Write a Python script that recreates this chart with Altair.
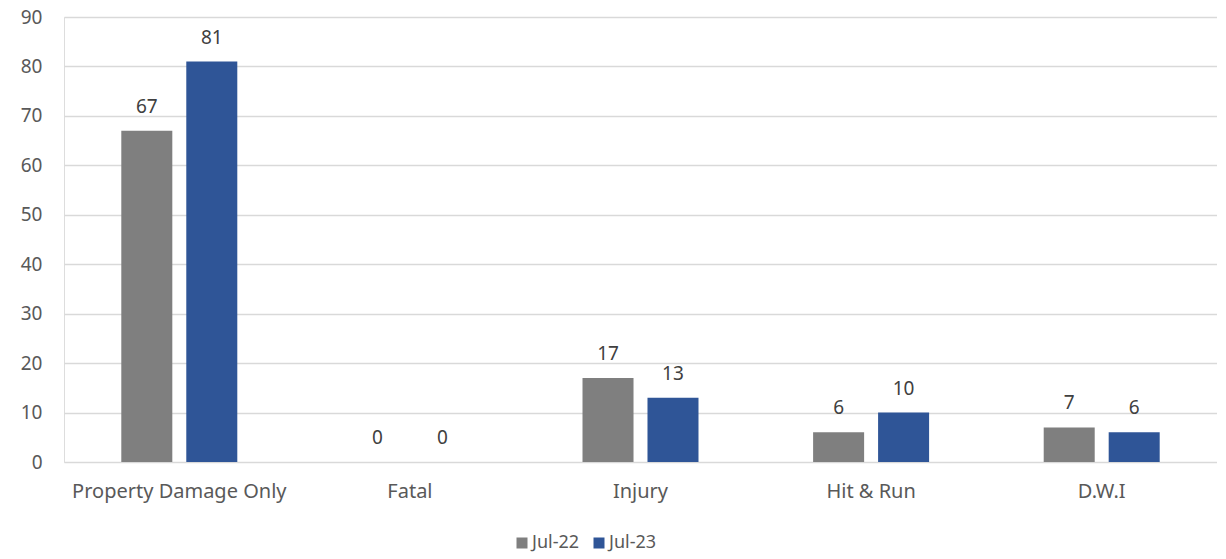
import altair as alt
import pandas as pd

categories = ["Property Damage Only", "Fatal", "Injury", "Hit & Run", "D.W.I"]
jul22 = [67, 0, 17, 6, 7]
jul23 = [81, 0, 13, 10, 6]
series = ["Jul-22", "Jul-23"]
colors = ["#7f7f7f", "#2f5597"]

rows = []
for c, a, b in zip(categories, jul22, jul23):
    rows.append({"cat": c, "series": "Jul-22", "value": a})
    rows.append({"cat": c, "series": "Jul-23", "value": b})
df = pd.DataFrame(rows)

FONT = "Noto Sans"
TXT = "#595959"
FS = 19
p = 0.497

x = alt.X("cat:N", sort=categories, title=None,
          scale=alt.Scale(paddingInner=p, paddingOuter=p / 2),
          axis=alt.Axis(labelAngle=0, labelFont=FONT, labelFontSize=20, labelColor=TXT,
                        labelPadding=19, labelLimit=0, ticks=False, domain=False))
xo = alt.XOffset("series:N", sort=series, scale=alt.Scale(paddingInner=0.215, paddingOuter=0))
y = alt.Y("value:Q", title=None,
          scale=alt.Scale(domain=[0, 90], nice=False),
          axis=alt.Axis(values=list(range(0, 91, 10)), labelFont=FONT, labelFontSize=FS,
                        labelColor=TXT, labelPadding=22, ticks=False, domain=False,
                        gridColor="#d9d9d9", gridWidth=1.3))

base = alt.Chart(df)
bars = base.mark_bar().encode(
    x=x, xOffset=xo, y=y,
    color=alt.Color("series:N", sort=series, title=None,
                    scale=alt.Scale(domain=series, range=colors),
                    legend=alt.Legend(orient="none", legendX=449, legendY=517, direction="horizontal",
                                      symbolType="square", symbolSize=121, symbolStrokeWidth=0,
                                      labelFont=FONT, labelFontSize=18, labelColor=TXT,
                                      columnPadding=10, labelOffset=1)),
)
labels = base.mark_text(dy=-24, font=FONT, fontSize=FS, color="#404040").encode(
    x=alt.X("cat:N", sort=categories), xOffset=alt.XOffset("series:N", sort=series), y="value:Q",
    text="value:Q",
)

chart = alt.layer(bars, labels).properties(
    width=1153, height=445,
    autosize=alt.AutoSizeParams(type="none"),
    padding={"left": 56, "top": 9, "right": 0, "bottom": 91},
).configure_view(stroke=None).configure(background="white")

chart.save("out.html", embed_options={"renderer": "svg", "actions": False})
